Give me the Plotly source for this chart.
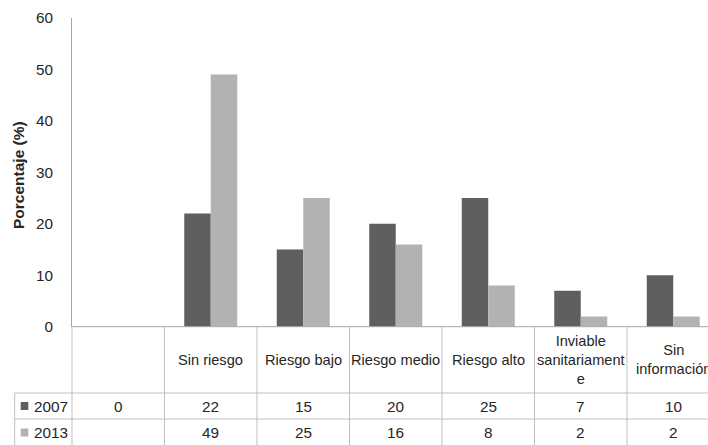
import plotly.graph_objects as go

categories = ["", "Sin riesgo", "Riesgo bajo", "Riesgo medio", "Riesgo alto",
              "Inviable<br>sanitariament<br>e", "Sin<br>información"]
series_names = ["2007", "2013"]
values_2007 = [0, 22, 15, 20, 25, 7, 10]
values_2013 = [None, 49, 25, 16, 8, 2, 2]
y_ticks = [0, 10, 20, 30, 40, 50, 60]
y_title = "Porcentaje (%)"

W, H = 708, 445
FONT = "Liberation Sans"
TXT = "#262626"
colors = ["#5f5f5f", "#b2b2b2"]
LINE = "#bfbfbf"
AXLINE = "#a6a6a6"
HDR_SIZE = 14.6
NUM_SIZE = 15.3

def px_x(p):
    return p / W

def px_y(p):
    return (H - p) / H

x_left = 72
cat_w = 92.5
y0_px = 326.7
ytop_px = 18
row1_px = 393
row2_px = 419
legend_left = 14.7

n = len(categories)
xs = list(range(n))

fig = go.Figure()
fig.add_bar(x=xs, y=values_2007, name=series_names[0], marker_color=colors[0],
            marker_line_width=0)
fig.add_bar(x=xs, y=values_2013, name=series_names[1], marker_color=colors[1],
            marker_line_width=0)

x_hi = -0.5 + (W - x_left) / cat_w

fig.update_layout(
    width=W, height=H, autosize=False,
    margin=dict(l=0, r=0, t=0, b=0, pad=0, autoexpand=False),
    paper_bgcolor="white", plot_bgcolor="white",
    showlegend=False,
    barmode="group", bargap=0.427, bargroupgap=0,
    font=dict(family=FONT, size=13, color=TXT),
    xaxis=dict(domain=[px_x(x_left), 1], range=[-0.5, x_hi], automargin=False,
               showticklabels=False, ticks="", showgrid=False, zeroline=False,
               showline=False),
    yaxis=dict(domain=[px_y(y0_px), px_y(ytop_px)], range=[0, 60], automargin=False,
               tickvals=y_ticks, ticks="", showgrid=False, zeroline=False,
               showline=True, linecolor=AXLINE, linewidth=1,
               ticklabelstandoff=15,
               tickfont=dict(family=FONT, size=NUM_SIZE, color=TXT)),
)

shapes = []
shapes.append(dict(type="line", xref="paper", yref="paper",
                   x0=px_x(x_left), x1=1, y0=px_y(y0_px), y1=px_y(y0_px),
                   line=dict(color=AXLINE, width=1)))
shapes.append(dict(type="line", xref="paper", yref="paper",
                   x0=px_x(x_left), x1=px_x(x_left), y0=0, y1=px_y(y0_px),
                   line=dict(color=LINE, width=1)))
for k in range(n):
    shapes.append(dict(type="line", xref="x", yref="paper",
                       x0=k + 0.5, x1=k + 0.5, y0=0, y1=px_y(y0_px),
                       line=dict(color=LINE, width=1)))
for yy in (row1_px, row2_px):
    shapes.append(dict(type="line", xref="paper", yref="paper",
                       x0=px_x(legend_left), x1=1, y0=px_y(yy), y1=px_y(yy),
                       line=dict(color=LINE, width=1)))
shapes.append(dict(type="line", xref="paper", yref="paper",
                   x0=px_x(legend_left), x1=px_x(legend_left), y0=0, y1=px_y(row1_px),
                   line=dict(color=LINE, width=1)))
row_centers = [(row1_px + row2_px) / 2, row2_px + 13.5]
for i in range(2):
    cy = row_centers[i]
    shapes.append(dict(type="rect", xref="paper", yref="paper",
                       x0=px_x(20.7), x1=px_x(28.3), y0=px_y(cy + 4), y1=px_y(cy - 4),
                       fillcolor=colors[i], line=dict(width=0)))
fig.update_layout(shapes=shapes)

ann = []
ann.append(dict(text="<b>" + y_title + "</b>", xref="paper", yref="paper",
                x=px_x(19), y=px_y(175), textangle=-90, showarrow=False,
                font=dict(family=FONT, size=15.5, color=TXT),
                xanchor="center", yanchor="middle"))
hdr_y = px_y((y0_px + row1_px) / 2)
for k, c in enumerate(categories):
    if c:
        ann.append(dict(text=c, xref="x", yref="paper", x=k, y=hdr_y,
                        showarrow=False, xanchor="center", yanchor="middle",
                        font=dict(family=FONT, size=HDR_SIZE, color=TXT)))
for i, nm in enumerate(series_names):
    ann.append(dict(text=nm, xref="paper", yref="paper", x=px_x(32),
                    y=px_y(row_centers[i]), showarrow=False,
                    xanchor="left", yanchor="middle",
                    font=dict(family=FONT, size=NUM_SIZE, color=TXT)))
for i, vals in enumerate([values_2007, values_2013]):
    for k, v in enumerate(vals):
        if v is None:
            continue
        ann.append(dict(text=str(v), xref="x", yref="paper", x=k,
                        y=px_y(row_centers[i]), showarrow=False,
                        xanchor="center", yanchor="middle",
                        font=dict(family=FONT, size=NUM_SIZE, color=TXT)))
fig.update_layout(annotations=ann)

fig.write_html("out.html")
